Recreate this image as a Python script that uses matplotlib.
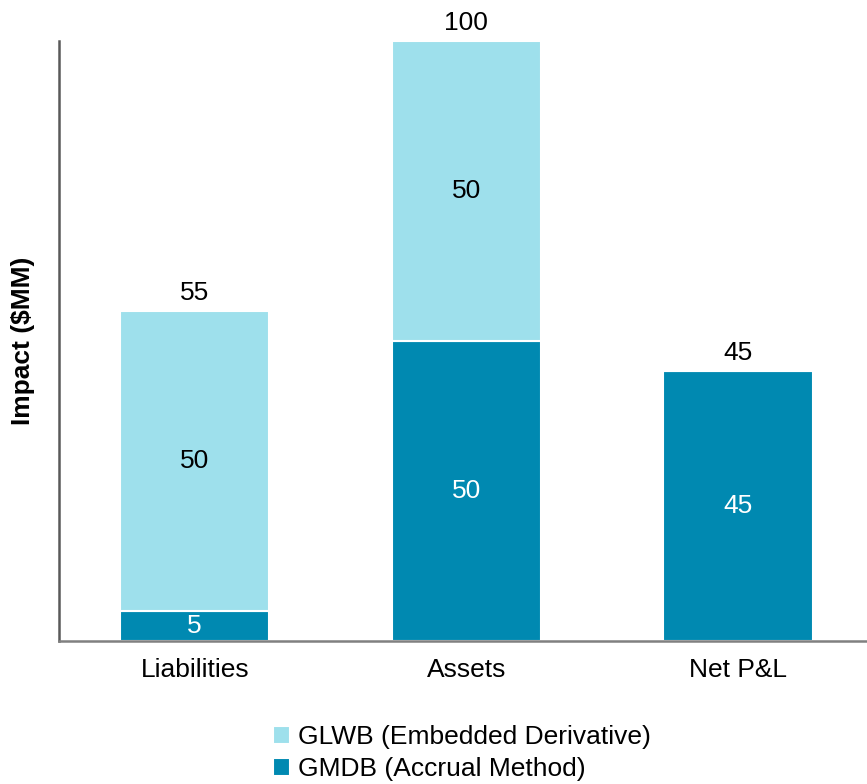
import matplotlib.pyplot as plt
import numpy as np

plt.rcParams['font.family'] = ['Liberation Sans', 'DejaVu Sans']

categories = ['Liabilities', 'Assets', 'Net P&L']
gmdb = [5, 50, 45]
glwb = [50, 50, 0]
totals = [55, 100, 45]

LIGHT = '#9EE0EC'
DARK = '#0089B1'

fig = plt.figure(figsize=(8.67, 7.84), dpi=100)
ax = fig.add_axes([0.068, 0.1824, 0.932, 0.7653])

x = np.arange(len(categories))
width = 0.55

b_dark = ax.bar(x, gmdb, width, color=DARK, edgecolor='white', linewidth=1.5,
                label='GMDB (Accrual Method)')
b_light = ax.bar(x, glwb, width, bottom=gmdb, color=LIGHT, edgecolor='white',
                 linewidth=1.5, label='GLWB (Embedded Derivative)')

fs = 19
for i in range(len(categories)):
    if gmdb[i] > 0:
        ax.text(x[i], gmdb[i] / 2, str(gmdb[i]), ha='center', va='center',
                color='white', fontsize=fs)
    if glwb[i] > 0:
        ax.text(x[i], gmdb[i] + glwb[i] / 2, str(glwb[i]), ha='center',
                va='center', color='black', fontsize=fs)
    ax.text(x[i], totals[i] + 1.0, str(totals[i]), ha='center', va='bottom',
            color='black', fontsize=fs, clip_on=False)

ax.set_xlim(-0.5, 2.475)
ax.set_ylim(0, 100)
ax.set_xticks(x)
ax.set_xticklabels(categories, fontsize=fs)
ax.set_yticks([])
ax.tick_params(axis='x', length=0, pad=12)
ax.set_ylabel('Impact ($MM)', fontsize=fs, fontweight='bold', labelpad=17)

for s in ['top', 'right']:
    ax.spines[s].set_visible(False)
ax.spines['left'].set_color('#595959')
ax.spines['left'].set_linewidth(1.8)
ax.spines['bottom'].set_color('#808080')
ax.spines['bottom'].set_linewidth(1.8)

fig.legend(handles=[b_light, b_dark],
           labels=['GLWB (Embedded Derivative)', 'GMDB (Accrual Method)'],
           loc='lower left', bbox_to_anchor=(270 / 867, 0.0),
           frameon=False, fontsize=fs, handlelength=0.65, handleheight=0.65,
           handletextpad=0.3, labelspacing=0.3, borderpad=0.1,
           borderaxespad=0)

fig.savefig('out.png', dpi=100)
